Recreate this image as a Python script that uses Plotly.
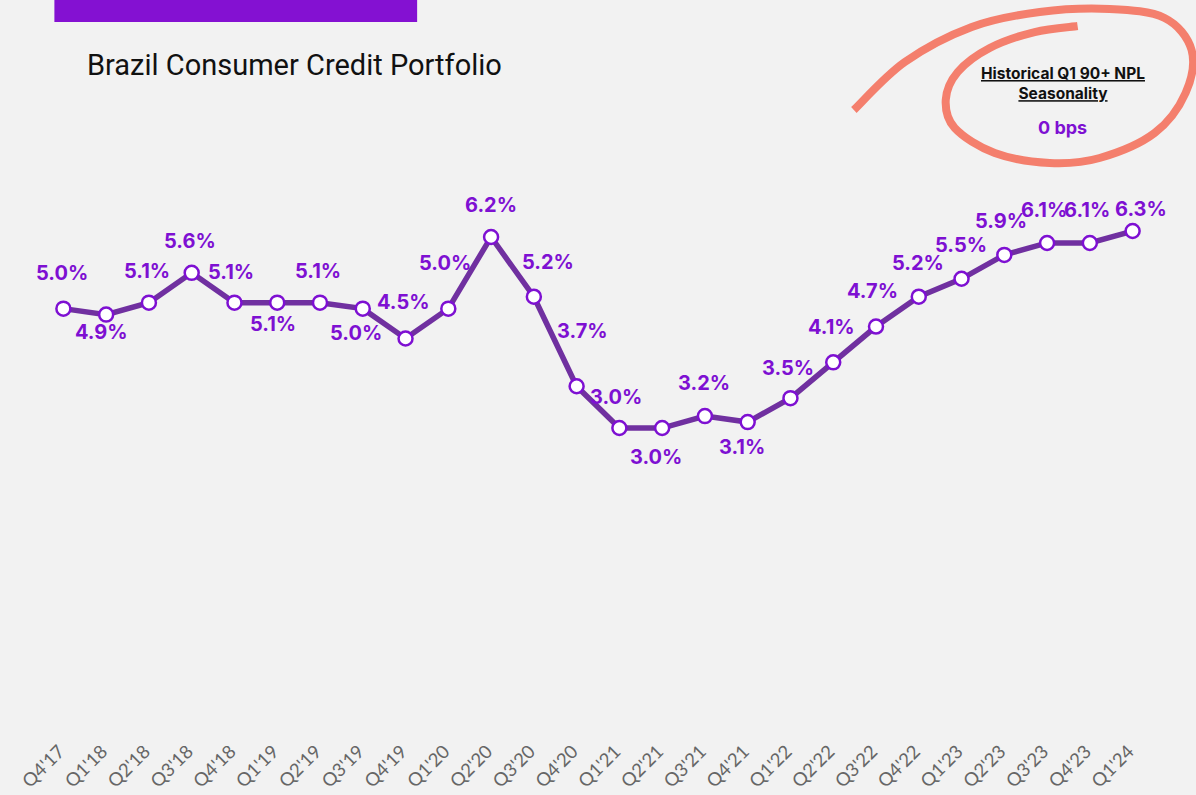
import plotly.graph_objects as go

# Quarterly 90+ NPL ratio, Brazil consumer credit portfolio (%)
quarters = ["Q4'17", "Q1'18", "Q2'18", "Q3'18", "Q4'18", "Q1'19", "Q2'19", "Q3'19",
            "Q4'19", "Q1'20", "Q2'20", "Q3'20", "Q4'20", "Q1'21", "Q2'21", "Q3'21",
            "Q4'21", "Q1'22", "Q2'22", "Q3'22", "Q4'22", "Q1'23", "Q2'23", "Q3'23",
            "Q4'23", "Q1'24"]
npl_ratio = [5.0, 4.9, 5.1, 5.6, 5.1, 5.1, 5.1, 5.0, 4.5, 5.0, 6.2, 5.2, 3.7, 3.0,
             3.0, 3.2, 3.1, 3.5, 4.1, 4.7, 5.2, 5.5, 5.9, 6.1, 6.1, 6.3]

# Label offsets in pixels (dx, dy; dy positive = upward)
label_offsets = [(-1, 36), (-5, -17), (-2, 32), (-2, 32), (-3, 31), (-4, -21),
                 (-2, 32), (-7, -24), (-2, 36), (-3, 46), (0, 32), (14, 35),
                 (6, 55), (-3, 31), (-6, -29), (-1, 33), (-6, -25), (-2, 30),
                 (-2, 35), (-4, 36), (-1, 34), (-1, 34), (-3, 34), (-3, 33),
                 (-3, 33), (8, 22)]

FIG_W, FIG_H = 1196, 795
M_L, M_R, M_T, M_B = 41.6, 41.6, 100, 59
PLOT_W = FIG_W - M_L - M_R
PLOT_H = FIG_H - M_T - M_B

LINE_COLOR = "#7030a0"
ACCENT = "#7e10d2"
BG = "#f2f2f2"


def to_paper(px, py):
    """Convert figure pixel coordinates to paper coordinates."""
    return (px - M_L) / PLOT_W, (FIG_H - M_B - py) / PLOT_H


def smooth_path(points):
    """Catmull-Rom spline through the points, written as cubic Bezier segments."""
    p = [to_paper(x, y) for x, y in points]
    d = "M {:.4f},{:.4f}".format(*p[0])
    for i in range(len(p) - 1):
        p0 = p[i - 1] if i > 0 else p[i]
        p1, p2 = p[i], p[i + 1]
        p3 = p[i + 2] if i + 2 < len(p) else p[i + 1]
        c1 = (p1[0] + (p2[0] - p0[0]) / 6, p1[1] + (p2[1] - p0[1]) / 6)
        c2 = (p2[0] - (p3[0] - p1[0]) / 6, p2[1] - (p3[1] - p1[1]) / 6)
        d += " C {:.4f},{:.4f} {:.4f},{:.4f} {:.4f},{:.4f}".format(*c1, *c2, *p2)
    return d


fig = go.Figure()
fig.add_trace(go.Scatter(
    x=quarters, y=npl_ratio, mode="lines+markers",
    line=dict(color=LINE_COLOR, width=5.5),
    marker=dict(size=14, color="white", line=dict(color=ACCENT, width=2.5)),
    hoverinfo="x+y", showlegend=False,
))

annotations = []
for q, v, (dx, dy) in zip(quarters, npl_ratio, label_offsets):
    annotations.append(dict(
        x=q, y=v, xref="x", yref="y", text=f"<b>{v:.1f}%</b>", showarrow=False,
        xshift=dx, yshift=dy,
        font=dict(family="Inter, Lato, sans-serif", size=20, color=ACCENT),
    ))

# Title
tx, ty = to_paper(85, 65)
annotations.append(dict(
    x=tx, y=ty, xref="paper", yref="paper", xanchor="left", yanchor="middle",
    text="Brazil Consumer Credit Portfolio", showarrow=False,
    font=dict(family="Roboto, sans-serif", size=29, color="#111111", weight=400),
))

# Seasonality callout
cx, cy1 = to_paper(1063, 83)
annotations.append(dict(
    x=cx, y=cy1, xref="paper", yref="paper", xanchor="center", yanchor="middle",
    text="<b><u>Historical Q1 90+ NPL</u></b><br><b><u>Seasonality</u></b>",
    showarrow=False, align="center",
    font=dict(family="Inter, Lato, sans-serif", size=15.5, color="#111111"),
))
cx, cy2 = to_paper(1063, 127)
annotations.append(dict(
    x=cx, y=cy2, xref="paper", yref="paper", xanchor="center", yanchor="middle",
    text="<b>0 bps</b>", showarrow=False,
    font=dict(family="Inter, Lato, sans-serif", size=18, color=ACCENT),
))

shapes = []
# Top accent bar
bx0, by0 = to_paper(54, 22)
bx1, by1 = to_paper(417, -5)
shapes.append(dict(type="rect", xref="paper", yref="paper", x0=bx0, y0=by0, x1=bx1, y1=by1,
                   fillcolor="#8411d2", line=dict(width=0), layer="above"))

# Hand-drawn loop around the callout
loop_px = [(854, 110), (905, 62), (972, 27), (1040, 12), (1110, 9), (1165, 18),
           (1192, 50), (1186, 93), (1155, 133), (1100, 158), (1050, 163),
           (995, 153), (955, 128), (946, 100), (958, 72), (990, 48), (1035, 32),
           (1078, 26)]
shapes.append(dict(type="path", xref="paper", yref="paper", path=smooth_path(loop_px),
                   line=dict(color="#f47f6d", width=8), layer="above"))

# y range: 6.2 sits at pixel 237, ~59.7 px per percentage point
px_per_pt = 59.7
y_max = 6.2 + (237 - M_T) / px_per_pt
y_min = y_max - PLOT_H / px_per_pt

fig.update_layout(
    width=FIG_W, height=FIG_H,
    margin=dict(l=M_L, r=M_R, t=M_T, b=M_B, autoexpand=False),
    paper_bgcolor=BG, plot_bgcolor=BG,
    xaxis=dict(type="category", range=[-0.5, len(quarters) - 0.5], showgrid=False,
               zeroline=False, showline=False, ticks="", tickangle=-45,
               automargin=False, ticklabelstandoff=0, ticklabelshift=-4,
               tickfont=dict(family="Lato, sans-serif", size=18.5, color="#666666")),
    yaxis=dict(range=[y_min, y_max], visible=False, showgrid=False, zeroline=False,
               automargin=False),
    annotations=annotations, shapes=shapes,
)

fig.write_html("out.html")
